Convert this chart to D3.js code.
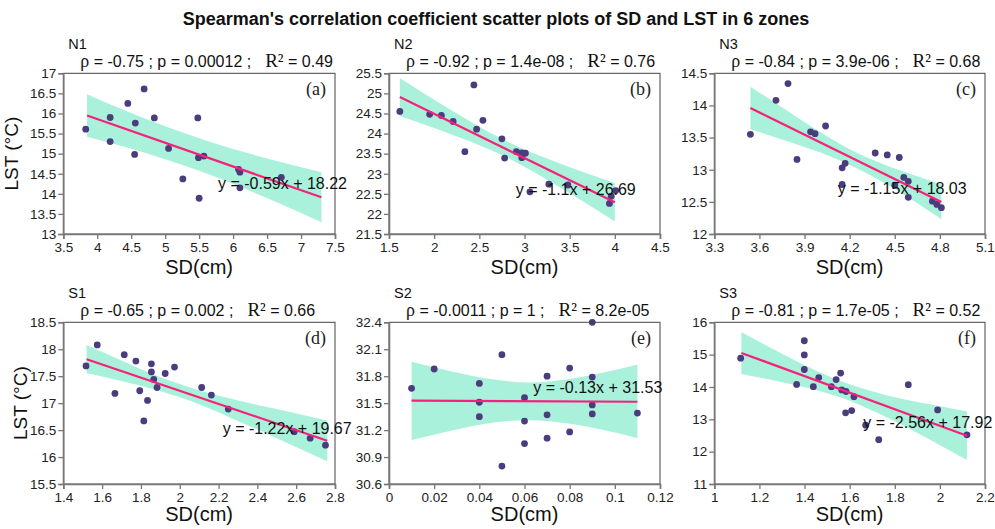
<!DOCTYPE html>
<html>
<head>
<meta charset="utf-8">
<script src="https://cdn.jsdelivr.net/npm/d3@7"></script>
<style>
  html, body { margin: 0; padding: 0; background: #fff; }
  svg { display: block; }
</style>
</head>
<body>
<svg id="chart" width="995" height="529"></svg>
<script>
// ---------------- DATA ----------------
const zoneNames = ["N1", "N2", "N3", "S1", "S2", "S3"];
const panelTags = ["(a)", "(b)", "(c)", "(d)", "(e)", "(f)"];
const rhoValues = ["-0.75", "-0.92", "-0.84", "-0.65", "-0.0011", "-0.81"];
const pValues = ["0.00012", "1.4e-08", "3.9e-06", "0.002", "1", "1.7e-05"];
const r2Values = ["0.49", "0.76", "0.68", "0.66", "8.2e-05", "0.52"];
const slopes = [-0.59, -1.1, -1.15, -1.22, -0.13, -2.56];
const intercepts = [18.22, 26.69, 18.03, 19.67, 31.53, 17.92];
const equationLabels = ["y = -0.59x + 18.22", "y = -1.1x + 26.69", "y = -1.15x + 18.03",
                        "y = -1.22x + 19.67", "y = -0.13x + 31.53", "y = -2.56x + 17.92"];

const xDomains = [[3.5, 7.5], [1.5, 4.5], [3.3, 5.1], [1.4, 2.8], [0, 0.12], [1, 2.2]];
const yDomains = [[13, 17], [21.5, 25.5], [12, 14.5], [15.5, 18.5], [30.6, 32.4], [11, 16]];

const xTicks = [
  ["3.5", "4", "4.5", "5", "5.5", "6", "6.5", "7", "7.5"],
  ["1.5", "2", "2.5", "3", "3.5", "4", "4.5"],
  ["3.3", "3.6", "3.9", "4.2", "4.5", "4.8", "5.1"],
  ["1.4", "1.6", "1.8", "2", "2.2", "2.4", "2.6", "2.8"],
  ["0", "0.02", "0.04", "0.06", "0.08", "0.1", "0.12"],
  ["1", "1.2", "1.4", "1.6", "1.8", "2", "2.2"]
];
const yTicks = [
  ["13", "13.5", "14", "14.5", "15", "15.5", "16", "16.5", "17"],
  ["21.5", "22", "22.5", "23", "23.5", "24", "24.5", "25", "25.5"],
  ["12", "12.5", "13", "13.5", "14", "14.5"],
  ["15.5", "16", "16.5", "17", "17.5", "18", "18.5"],
  ["30.6", "30.9", "31.2", "31.5", "31.8", "32.1", "32.4"],
  ["11", "12", "13", "14", "15", "16"]
];

// SD (x) and LST (y) per zone
const sdN1 = [3.83, 4.19, 4.19, 4.45, 4.56, 4.55, 4.69, 4.84, 5.05, 5.26, 5.48, 5.49, 5.57, 5.50, 6.08, 6.10, 6.10, 6.71];
const lstN1 = [15.61, 15.90, 15.30, 16.25, 15.76, 14.98, 16.61, 15.89, 15.13, 14.37, 15.89, 14.90, 14.94, 13.89, 14.61, 14.54, 14.15, 14.41];

const sdN2 = [1.62, 1.95, 2.08, 2.21, 2.34, 2.44, 2.54, 2.47, 2.75, 2.78, 2.91, 2.97, 3.01, 2.97, 3.06, 3.27, 3.48, 3.94, 3.96, 4.01];
const lstN2 = [24.55, 24.48, 24.45, 24.30, 23.55, 25.21, 24.33, 24.11, 23.87, 23.39, 23.55, 23.52, 23.51, 23.40, 22.55, 22.74, 22.72, 22.26, 22.44, 22.58];

const sdN3 = [3.54, 3.71, 3.79, 3.85, 3.94, 3.97, 4.04, 4.15, 4.17, 4.15, 4.37, 4.45, 4.53, 4.50, 4.56, 4.59, 4.59, 4.75, 4.78, 4.81];
const lstN3 = [13.55, 14.08, 14.34, 13.16, 13.59, 13.56, 13.68, 13.03, 13.10, 12.77, 13.26, 13.23, 13.19, 12.76, 12.88, 12.82, 12.57, 12.51, 12.46, 12.41];

const sdS1 = [1.517, 1.575, 1.666, 1.714, 1.774, 1.794, 1.834, 1.815, 1.854, 1.854, 1.866, 1.883, 1.925, 1.973, 2.113, 2.163, 2.250, 2.59, 2.672, 2.751];
const lstS1 = [17.69, 18.08, 17.18, 17.90, 17.78, 17.23, 17.05, 16.67, 17.73, 17.58, 17.44, 17.29, 17.55, 17.67, 17.29, 17.15, 16.89, 16.47, 16.35, 16.22];

const sdS2 = [0.01, 0.02, 0.04, 0.04, 0.04, 0.05, 0.05, 0.06, 0.06, 0.06, 0.07, 0.07, 0.07, 0.08, 0.08, 0.09, 0.09, 0.09, 0.09, 0.11];
const lstS2 = [31.665, 31.88, 31.72, 31.51, 31.35, 32.04, 30.80, 31.56, 31.30, 31.05, 31.80, 31.37, 31.11, 31.89, 31.18, 32.40, 31.79, 31.48, 31.38, 31.39];

const sdS3 = [1.117, 1.365, 1.399, 1.399, 1.399, 1.439, 1.463, 1.519, 1.540, 1.560, 1.565, 1.584, 1.582, 1.609, 1.619, 1.671, 1.729, 1.860, 1.990, 2.120];
const lstS3 = [14.89, 14.08, 15.43, 14.99, 14.54, 14.01, 14.29, 14.01, 14.23, 14.43, 13.91, 13.86, 13.20, 13.27, 13.70, 12.82, 12.37, 14.07, 13.29, 12.52];

// fitted line x-range
const lineRanges = [[3.85, 7.3], [1.62, 4.0], [3.54, 4.81], [1.52, 2.76], [0.01, 0.11], [1.12, 2.12]];

// confidence band
const bandXN1 = [3.85, 4.4, 5.0, 5.6, 6.2, 6.8, 7.3];
const bandHiN1 = [16.48, 16.08, 15.68, 15.33, 15.02, 14.75, 14.54];
const bandLoN1 = [15.42, 15.17, 14.86, 14.51, 14.11, 13.67, 13.29];
const bandXN2 = [1.62, 2.0, 2.4, 2.8, 3.2, 3.6, 4.0];
const bandHiN2 = [25.38, 24.84, 24.30, 23.81, 23.42, 23.08, 22.77];
const bandLoN2 = [24.44, 24.14, 23.80, 23.41, 22.92, 22.38, 21.81];
const bandXN3 = [3.54, 3.75, 4.0, 4.25, 4.5, 4.7, 4.81];
const bandHiN3 = [14.29, 13.97, 13.59, 13.26, 13.02, 12.86, 12.77];
const bandLoN3 = [13.63, 13.47, 13.27, 13.02, 12.70, 12.40, 12.23];
const bandXS1 = [1.52, 1.7, 1.9, 2.1, 2.3, 2.5, 2.76];
const bandHiS1 = [18.08, 17.79, 17.48, 17.24, 17.05, 16.89, 16.68];
const bandLoS1 = [17.56, 17.41, 17.22, 16.98, 16.67, 16.35, 15.92];
const bandXS2 = [0.01, 0.025, 0.045, 0.062, 0.08, 0.095, 0.11];
const bandHiS2 = [31.96, 31.87, 31.77, 31.73, 31.77, 31.84, 31.93];
const bandLoS2 = [31.09, 31.18, 31.28, 31.31, 31.27, 31.20, 31.11];
const bandXS3 = [1.12, 1.3, 1.45, 1.58, 1.75, 1.95, 2.12];
const bandHiS3 = [15.70, 15.03, 14.51, 14.13, 13.77, 13.47, 13.24];
const bandLoS3 = [14.40, 14.15, 13.91, 13.63, 13.11, 12.39, 11.74];

const sdData = [sdN1, sdN2, sdN3, sdS1, sdS2, sdS3];
const lstData = [lstN1, lstN2, lstN3, lstS1, lstS2, lstS3];
const bandX = [bandXN1, bandXN2, bandXN3, bandXS1, bandXS2, bandXS3];
const bandHi = [bandHiN1, bandHiN2, bandHiN3, bandHiS1, bandHiS2, bandHiS3];
const bandLo = [bandLoN1, bandLoN2, bandLoN3, bandLoS1, bandLoS2, bandLoS3];

// ---------------- LAYOUT ----------------
const colLeft = [63.3, 389, 714.3];
const colRight = [335, 660, 985];
const rowTop = [73.3, 322.3];
const rowBottom = [234, 484];
const eqOffsets = [[154.7, 115.7], [126.7, 121.7], [123.4, 120.7], [159.4, 111.7], [144.3, 70.7], [149, 105.7]];
const xLabelY = [274, 521];
const yLabelX = [18, 27];

const SANS = "'Liberation Sans', Arial, sans-serif";
const SERIF = "'Liberation Serif', 'Times New Roman', serif";
const BAND = "#aaf1dc";
const LINE = "#f5217a";
const DOT = "#4b3c7e";

const svg = d3.select("#chart");

svg.append("text")
  .attr("x", 496).attr("y", 25)
  .attr("text-anchor", "middle")
  .attr("font-family", SANS).attr("font-weight", "bold").attr("font-size", 18)
  .attr("fill", "#111")
  .text("Spearman's correlation coefficient scatter plots of SD and LST in 6 zones");

for (let i = 0; i < 6; i++) {
  const row = Math.floor(i / 3), col = i % 3;
  const L = colLeft[col], R = colRight[col], T = rowTop[row], B = rowBottom[row];
  const x = d3.scaleLinear().domain(xDomains[i]).range([L, R]);
  const y = d3.scaleLinear().domain(yDomains[i]).range([B, T]);
  const g = svg.append("g");

  // band
  const bandPts = bandX[i].map((v, k) => ({ x: v, hi: bandHi[i][k], lo: bandLo[i][k] }));
  g.append("path")
    .datum(bandPts)
    .attr("fill", BAND)
    .attr("d", d3.area().curve(d3.curveMonotoneX)
      .x(d => x(d.x)).y0(d => y(d.lo)).y1(d => y(d.hi)));

  // points
  g.selectAll("circle.pt")
    .data(sdData[i].map((v, k) => ({ x: v, y: lstData[i][k] })))
    .join("circle")
    .attr("class", "pt")
    .attr("cx", d => x(d.x)).attr("cy", d => y(d.y))
    .attr("r", 3.4).attr("fill", DOT);

  // fitted line
  const lr = lineRanges[i].map(v => ({ x: v, y: slopes[i] * v + intercepts[i] }));
  g.append("path")
    .datum(lr)
    .attr("fill", "none").attr("stroke", LINE).attr("stroke-width", 2.2)
    .attr("d", d3.line().x(d => x(d.x)).y(d => y(d.y)));

  // frame
  g.append("rect")
    .attr("x", L).attr("y", T).attr("width", R - L).attr("height", B - T)
    .attr("fill", "none").attr("stroke", "#444").attr("stroke-width", 1);

  // axes
  const xAxis = d3.axisBottom(x).tickValues(xTicks[i].map(Number))
    .tickFormat((d, k) => xTicks[i][k]).tickSizeOuter(0).tickSize(5).tickPadding(3);
  const yAxis = d3.axisLeft(y).tickValues(yTicks[i].map(Number))
    .tickFormat((d, k) => yTicks[i][k]).tickSizeOuter(0).tickSize(5).tickPadding(2);
  const gx = g.append("g").attr("transform", `translate(0,${B})`).call(xAxis);
  const gy = g.append("g").attr("transform", `translate(${L},0)`).call(yAxis);
  [gx, gy].forEach(a => {
    a.select(".domain").attr("stroke", "#777").attr("stroke-width", 1.6);
    a.selectAll(".tick line").attr("stroke", "#777").attr("stroke-width", 1.3);
    a.selectAll(".tick text").attr("font-family", SANS).attr("font-size", 13.5).attr("fill", "#222");
  });

  // panel tag
  g.append("text")
    .attr("x", R - 9).attr("y", T + 22)
    .attr("text-anchor", "end")
    .attr("font-family", SERIF).attr("font-size", 18).attr("fill", "#222")
    .text(panelTags[i]);

  // zone name
  g.append("text")
    .attr("x", L + 5).attr("y", T - 24.5)
    .attr("font-family", SANS).attr("font-size", 14.5).attr("fill", "#111")
    .text(zoneNames[i]);

  // stat text
  const st = g.append("text")
    .attr("x", L + 17).attr("y", T - 6)
    .attr("font-family", SANS).attr("font-size", 16).attr("fill", "#111");
  st.append("tspan").attr("font-family", SERIF).attr("font-size", 18).text("ρ");
  st.append("tspan").text(` = ${rhoValues[i]} ; p = ${pValues[i]} ;`);
  st.append("tspan").attr("dx", 14).attr("font-family", SERIF).attr("font-size", 19).text("R²");
  st.append("tspan").text(` = ${r2Values[i]}`);

  // equation
  g.append("text")
    .attr("x", L + eqOffsets[i][0]).attr("y", T + eqOffsets[i][1])
    .attr("font-family", SANS).attr("font-size", 16).attr("fill", "#111")
    .text(equationLabels[i]);

  // x label
  g.append("text")
    .attr("x", (L + R) / 2).attr("y", xLabelY[row])
    .attr("text-anchor", "middle")
    .attr("font-family", SANS).attr("font-size", 20).attr("fill", "#111")
    .text("SD(cm)");

  // y label only on first column
  if (col === 0) {
    g.append("text")
      .attr("transform", `translate(${yLabelX[row]},${(T + B) / 2}) rotate(-90)`)
      .attr("text-anchor", "middle")
      .attr("font-family", SANS).attr("font-size", 19).attr("fill", "#111")
      .text("LST (°C)");
  }
}
</script>
</body>
</html>
